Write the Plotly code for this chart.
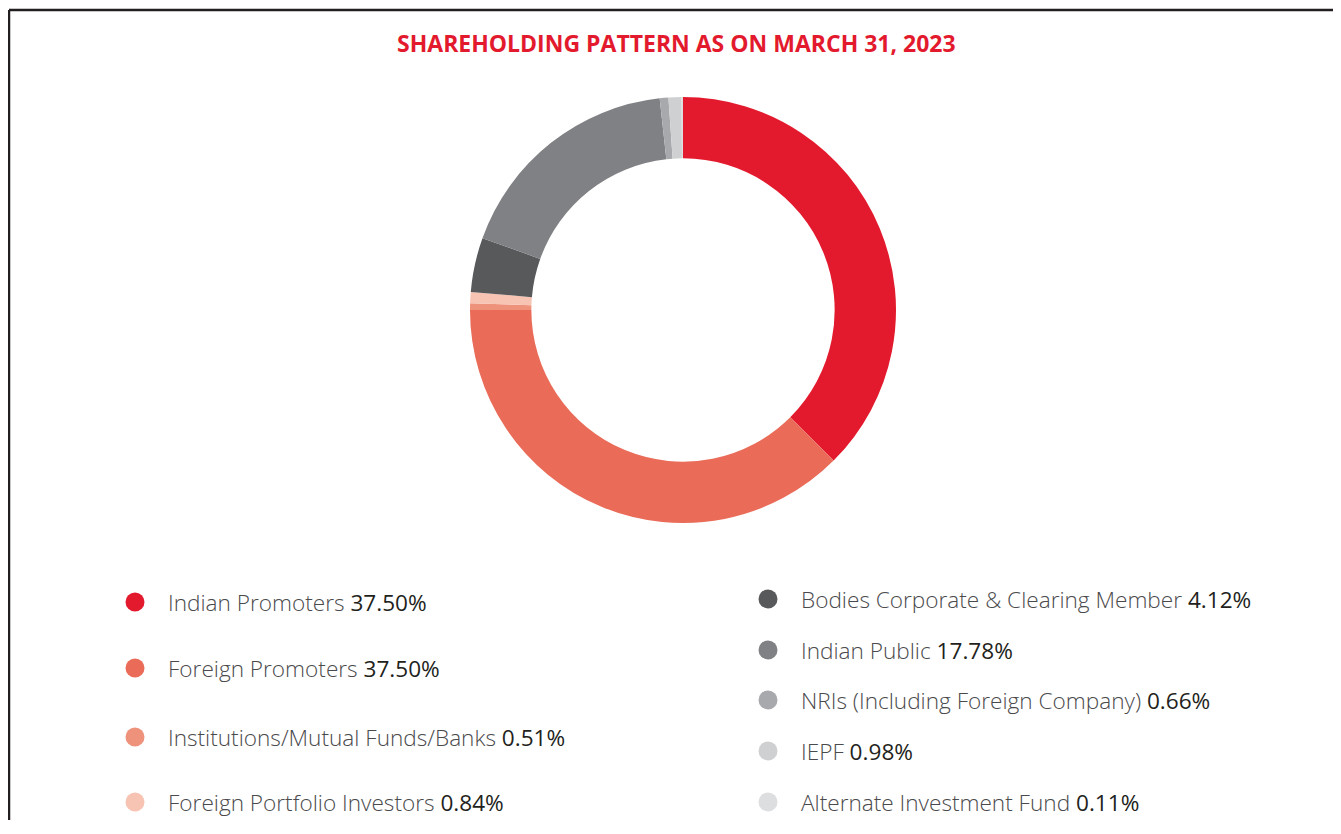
import plotly.graph_objects as go

# ---- data ----
categories = [
    "Indian Promoters",
    "Foreign Promoters",
    "Institutions/Mutual Funds/Banks",
    "Foreign Portfolio Investors",
    "Bodies Corporate & Clearing Member",
    "Indian Public",
    "NRIs (Including Foreign Company)",
    "IEPF",
    "Alternate Investment Fund",
]
values = [37.50, 37.50, 0.51, 0.84, 4.12, 17.78, 0.66, 0.98, 0.11]
colors = ["#E31A2D", "#E96B58", "#EF927C", "#F7C4B3", "#58595B",
          "#808184", "#A7A9AC", "#CFD0D2", "#DDDEE0"]
title_text = "SHAREHOLDING PATTERN AS ON MARCH 31, 2023"

OFF = 8  # page offset of the plot inside the browser
W, H = 1333, 812
cx, cy, R = 683, 310, 213

fig = go.Figure()
fig.add_trace(go.Pie(
    labels=categories, values=values, sort=False, direction="clockwise",
    rotation=0, hole=0.712,
    marker=dict(colors=colors, line=dict(width=0)),
    textinfo="none", hoverinfo="label+percent", showlegend=False,
    domain=dict(x=[(cx - OFF - R) / W, (cx - OFF + R) / W],
                y=[1 - (cy - OFF + R) / H, 1 - (cy - OFF - R) / H]),
))

# legend layout (positions in screen pixels)
left_rows = [602, 668, 737, 802]
right_rows = [599, 650, 700, 751, 802]
pos = [(135, y) for y in left_rows] + [(768, y) for y in right_rows]

fig.add_trace(go.Scatter(
    x=[p[0] for p in pos], y=[p[1] for p in pos], mode="markers",
    marker=dict(size=19, color=colors, line=dict(width=0)),
    hoverinfo="skip", showlegend=False, xaxis="x", yaxis="y",
    cliponaxis=False,
))

annotations = []
for (px, py), cat, val in zip(pos, categories, values):
    annotations.append(dict(
        x=px + 31, y=py, xref="x", yref="y", xanchor="left", yanchor="middle",
        showarrow=False,
        text=f"{cat} <span style='color:#231F20;font-weight:400'>{val:.2f}%</span>",
        font=dict(family="Open Sans", size=22.6, color="#4a4a4c", weight=300),
    ))
annotations.append(dict(
    x=676, y=43, xref="x", yref="y", xanchor="center", yanchor="middle",
    showarrow=False, text=f"<b>{title_text}</b>",
    font=dict(family="Open Sans", size=23, color="#E31A2D"),
))

# frame
frame = [
    dict(type="line", xref="x", yref="y", x0=9, x1=9, y0=10, y1=860, line=dict(color="#231F20", width=2.5)),
    dict(type="line", xref="x", yref="y", x0=9, x1=1339, y0=10, y1=10, line=dict(color="#231F20", width=2.5)),
    dict(type="line", xref="x", yref="y", x0=1338, x1=1338, y0=10, y1=860, line=dict(color="#231F20", width=2.5)),
]

fig.update_layout(
    width=W, height=H, margin=dict(l=0, r=0, t=0, b=0),
    paper_bgcolor="white", plot_bgcolor="rgba(0,0,0,0)",
    xaxis=dict(range=[OFF, W + OFF], visible=False, domain=[0, 1], fixedrange=True),
    yaxis=dict(range=[H + OFF, OFF], visible=False, domain=[0, 1], fixedrange=True),
    annotations=annotations, shapes=frame,
)

fig.write_html("out.html")
